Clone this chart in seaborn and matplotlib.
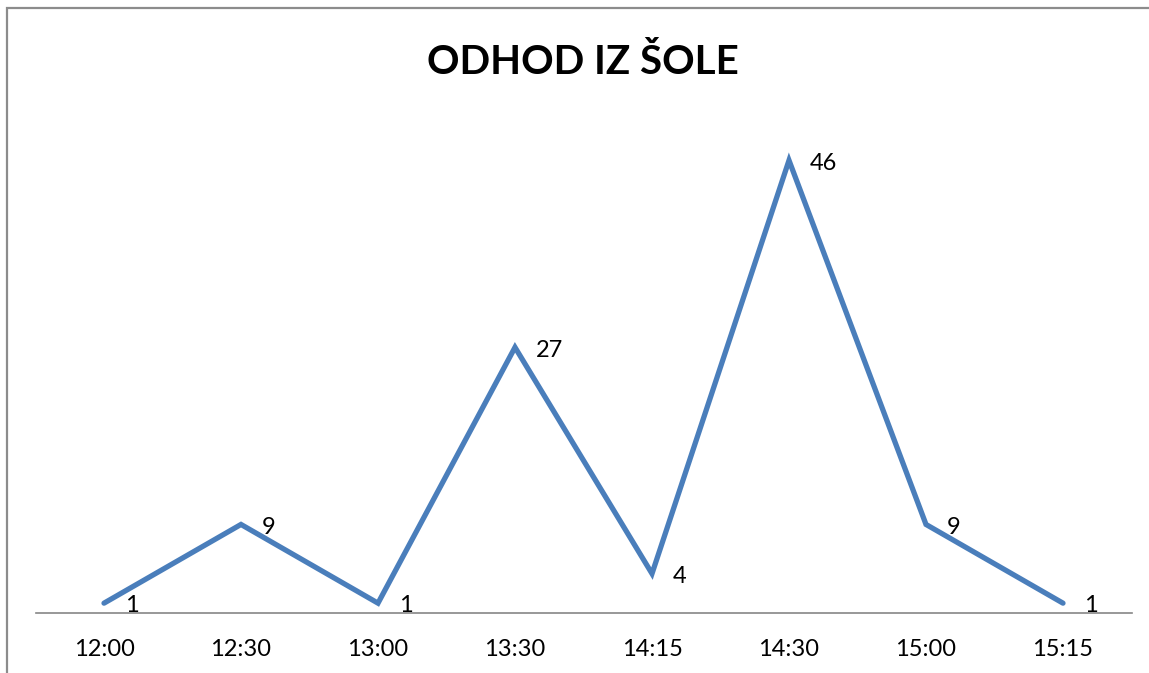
import numpy as np
import pandas as pd
import matplotlib
matplotlib.use("Agg")
import matplotlib.pyplot as plt
from matplotlib.patches import Rectangle
import seaborn as sns

# data
times = ["12:00", "12:30", "13:00", "13:30", "14:15", "14:30", "15:00", "15:15"]
counts = [1, 9, 1, 27, 4, 46, 9, 1]
title = "ODHOD IZ ŠOLE"

df = pd.DataFrame({"pos": np.arange(len(times)), "n": counts})

sns.set_style("white")
plt.rcParams["font.family"] = ["Lato", "DejaVu Sans"]

fig = plt.figure(figsize=(11.49, 6.73), dpi=100)
ax = fig.add_axes([35.5 / 1149, 60 / 673, 1096 / 1149, 492 / 673])

sns.lineplot(data=df, x="pos", y="n", sort=False, color="#4A7EBB",
             linewidth=3.8, ax=ax, solid_capstyle="round", solid_joinstyle="miter")

# data labels
for x, y in zip(df["pos"], df["n"]):
    ax.annotate(str(y), (x, y), xytext=(15, -2), textcoords="offset points",
                ha="left", va="center", fontsize=17, color="black")

ax.set_xlim(-0.5, len(times) - 0.5)
ax.set_ylim(0, 50)
ax.set_xticks(df["pos"])
ax.set_xticklabels(times, fontsize=17, color="black")
ax.tick_params(axis="x", length=0, pad=19)
ax.set_yticks([])
ax.set_xlabel("")
ax.set_ylabel("")
for s in ["top", "right", "left"]:
    ax.spines[s].set_visible(False)
ax.spines["bottom"].set_color("#868686")
ax.spines["bottom"].set_linewidth(1.2)

fig.text(583 / 1149, 1 - 62 / 673, title, ha="center", va="center",
         fontsize=29, fontweight="bold", color="black")

# chart border (cut off at right/bottom like the original)
fig.add_artist(Rectangle((7 / 1149, -0.1), 1.2, (665 / 673) + 0.1,
                         transform=fig.transFigure, fill=False,
                         edgecolor="#8c8c8c", linewidth=1.6))

fig.savefig("out.png", dpi=100)
